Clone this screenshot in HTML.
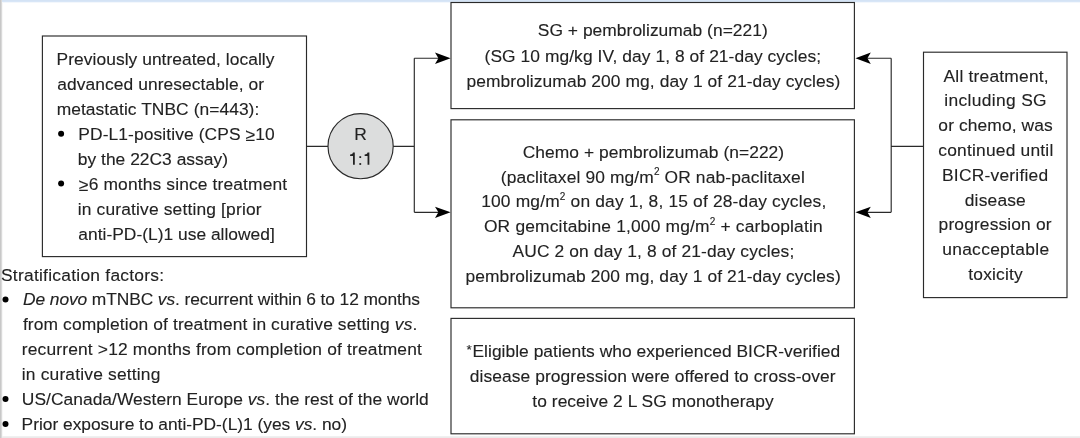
<!DOCTYPE html>
<html><head><meta charset="utf-8"><style>
html,body{margin:0;padding:0;width:1080px;height:438px;overflow:hidden;background:#fff}
svg{display:block;will-change:transform}
text{font-family:"Liberation Sans",sans-serif;font-size:17.4px;fill:#222;stroke:#222;stroke-width:0.12px}
</style></head><body>
<svg width="1080" height="438" viewBox="0 0 1080 438">
<rect x="0" y="0" width="1080" height="438" fill="#fff"/>
<rect x="0" y="0" width="1080" height="1" fill="#d4e3f5"/>
<rect x="0" y="1" width="1080" height="1" fill="#d8e6f7"/>
<rect x="0" y="2" width="1080" height="1" fill="#f3f7fc"/>
<rect x="0" y="436" width="1080" height="1" fill="#f0f0f0"/>
<rect x="0" y="437" width="1080" height="1" fill="#ebebeb"/>
<rect x="0" y="0" width="1" height="438" fill="#c8c8c8"/>
<rect x="1" y="0" width="1" height="438" fill="#d9d9d9"/>
<rect x="2" y="3" width="1" height="433" fill="#f7f7f7"/>
<rect x="42.4" y="36.0" width="264.10" height="220.60" fill="#fff" stroke="#2a2a2a" stroke-width="1.15"/>
<rect x="451.0" y="2.5" width="403.40" height="106.10" fill="#fff" stroke="#2a2a2a" stroke-width="1.15"/>
<rect x="451.0" y="119.8" width="403.40" height="188.00" fill="#fff" stroke="#2a2a2a" stroke-width="1.15"/>
<rect x="451.0" y="318.4" width="403.40" height="115.40" fill="#fff" stroke="#2a2a2a" stroke-width="1.15"/>
<rect x="923.5" y="52.2" width="143.50" height="245.40" fill="#fff" stroke="#2a2a2a" stroke-width="1.15"/>
<path d="M306.5 146.3H328M393 146.3H414.3M414.3 58.2V212.35M414.3 58.2H440M414.3 212.35H440" fill="none" stroke="#2a2a2a" stroke-width="1.15"/>
<path d="M923.5 146.4H891.2M891.2 58.2V212.35M891.2 58.2H866M891.2 212.35H866" fill="none" stroke="#2a2a2a" stroke-width="1.15"/>
<circle cx="360.6" cy="146.2" r="32.6" fill="#dcdddd" stroke="#2a2a2a" stroke-width="1.15"/>
<path d="M450.6 58.2L435 52.5L438.4 58.2L435 63.9Z" fill="#000"/>
<path d="M450.6 212.35L435 206.65L438.4 212.35L435 218.05Z" fill="#000"/>
<path d="M855.4 58.2L870.8 52.5L867.4 58.2L870.8 63.9Z" fill="#000"/>
<path d="M855.4 212.35L870.8 206.65L867.4 212.35L870.8 218.05Z" fill="#000"/>
<circle cx="61.1" cy="133.7" r="3" fill="#000"/>
<circle cx="61.1" cy="183.5" r="3" fill="#000"/>
<circle cx="5.5" cy="299.4" r="3" fill="#000"/>
<circle cx="5.5" cy="399.0" r="3" fill="#000"/>
<circle cx="5.5" cy="423.9" r="3" fill="#000"/>
<text id="L0" x="56.61" y="65.30" textLength="217.80" lengthAdjust="spacing">Previously untreated, locally</text>
<text id="L1" x="57.31" y="90.20" textLength="206.71" lengthAdjust="spacing">advanced unresectable, or</text>
<text id="L2" x="56.69" y="115.10" textLength="202.62" lengthAdjust="spacing">metastatic TNBC (n=443):</text>
<text id="L3" x="78.34" y="140.00" textLength="196.43" lengthAdjust="spacing">PD-L1-positive (CPS <tspan dy="1.1">≥</tspan><tspan dy="-1.1">​</tspan>10</text>
<text id="L4" x="77.77" y="164.90" textLength="150.23" lengthAdjust="spacing">by the 22C3 assay)</text>
<text id="L5" x="78.87" y="189.80" textLength="208.29" lengthAdjust="spacing"><tspan dy="1.1">≥</tspan><tspan dy="-1.1">​</tspan>6 months since treatment</text>
<text id="L6" x="77.75" y="214.70" textLength="183.78" lengthAdjust="spacing">in curative setting [prior</text>
<text id="L7" x="78.36" y="239.60" textLength="196.41" lengthAdjust="spacing">anti-PD-(L)1 use allowed]</text>
<text id="S0" x="1.02" y="280.60" textLength="163.08" lengthAdjust="spacing">Stratification factors:</text>
<text id="S1" x="23.10" y="305.47" textLength="396.82" lengthAdjust="spacing"><tspan font-style="italic">De novo</tspan> mTNBC <tspan font-style="italic">vs</tspan>. recurrent within 6 to 12 months</text>
<text id="S2" x="22.91" y="330.34" textLength="394.40" lengthAdjust="spacing">from completion of treatment in curative setting <tspan font-style="italic">vs</tspan>.</text>
<text id="S3" x="21.72" y="355.21" textLength="400.14" lengthAdjust="spacing">recurrent &gt;12 months from completion of treatment</text>
<text id="S4" x="21.75" y="380.08" textLength="138.63" lengthAdjust="spacing">in curative setting</text>
<text id="S5" x="21.78" y="404.95" textLength="406.99" lengthAdjust="spacing">US/Canada/Western Europe <tspan font-style="italic">vs</tspan>. the rest of the world</text>
<text id="S6" x="21.61" y="429.82" textLength="325.42" lengthAdjust="spacing">Prior exposure to anti-PD-(L)1 (yes <tspan font-style="italic">vs</tspan>. no)</text>
<text id="G0" x="537.79" y="36.40" textLength="229.94" lengthAdjust="spacing">SG + pembrolizumab (n=221)</text>
<text id="G1" x="484.54" y="61.50" textLength="336.60" lengthAdjust="spacing">(SG 10 mg/kg IV, day 1, 8 of 21-day cycles;</text>
<text id="G2" x="466.43" y="86.50" textLength="373.93" lengthAdjust="spacing">pembrolizumab 200 mg, day 1 of 21-day cycles)</text>
<text id="C0" x="522.74" y="157.70" textLength="261.37" lengthAdjust="spacing">Chemo + pembrolizumab (n=222)</text>
<text id="C1" x="500.75" y="182.50" textLength="304.04" lengthAdjust="spacing">(paclitaxel 90 mg/m<tspan font-size="10" dy="-7.3">2</tspan><tspan dy="7.3"> </tspan> OR nab-paclitaxel</text>
<text id="C2" x="481.19" y="207.30" textLength="345.06" lengthAdjust="spacing">100 mg/m<tspan font-size="10" dy="-7.3">2</tspan><tspan dy="7.3"> </tspan> on day 1, 8, 15 of 28-day cycles,</text>
<text id="C3" x="483.92" y="232.00" textLength="338.78" lengthAdjust="spacing">OR gemcitabine 1,000 mg/m<tspan font-size="10" dy="-7.3">2</tspan><tspan dy="7.3"> </tspan> + carboplatin</text>
<text id="C4" x="512.50" y="256.80" textLength="281.76" lengthAdjust="spacing">AUC 2 on day 1, 8 of 21-day cycles;</text>
<text id="C5" x="465.44" y="281.60" textLength="375.28" lengthAdjust="spacing">pembrolizumab 200 mg, day 1 of 21-day cycles)</text>
<text id="F0" x="467.19" y="357.10" textLength="373.65" lengthAdjust="spacing"><tspan font-size="13.5" dy="-3.5" dx="-0.6">*</tspan><tspan dy="3.5" dx="0.6">Eligible patients who experienced BICR-verified</tspan></text>
<text id="F1" x="469.72" y="382.10" textLength="365.93" lengthAdjust="spacing">disease progression were offered to cross-over</text>
<text id="F2" x="532.35" y="407.10" textLength="241.23" lengthAdjust="spacing">to receive 2 L SG monotherapy</text>
<text id="R0" x="943.50" y="81.50" textLength="105.17" lengthAdjust="spacing">All treatment,</text>
<text id="R1" x="944.37" y="106.31" textLength="102.28" lengthAdjust="spacing">including SG</text>
<text id="R2" x="938.37" y="131.12" textLength="114.34" lengthAdjust="spacing">or chemo, was</text>
<text id="R3" x="938.35" y="155.93" textLength="114.90" lengthAdjust="spacing">continued until</text>
<text id="R4" x="942.03" y="180.74" textLength="106.08" lengthAdjust="spacing">BICR-verified</text>
<text id="R5" x="964.75" y="205.55" textLength="61.04" lengthAdjust="spacing">disease</text>
<text id="R6" x="938.62" y="230.36" textLength="112.85" lengthAdjust="spacing">progression or</text>
<text id="R7" x="942.17" y="255.17" textLength="106.90" lengthAdjust="spacing">unacceptable</text>
<text id="R8" x="968.32" y="279.98" textLength="54.37" lengthAdjust="spacing">toxicity</text>
<text x="360.6" y="139.9" text-anchor="middle">R</text>
<path d="M353.00 152.6H354.80V164.8H353.00V155.9H350.10V154.6C351.80 154.5 352.80 153.9 353.00 152.6Z" fill="#222"/><path d="M367.55 152.6H369.35V164.8H367.55V155.9H364.65V154.6C366.35 154.5 367.35 153.9 367.55 152.6Z" fill="#222"/><rect x="359.35" y="156.2" width="1.8" height="1.8" fill="#222"/><rect x="359.35" y="163.1" width="1.8" height="1.8" fill="#222"/>
</svg>
</body></html>
